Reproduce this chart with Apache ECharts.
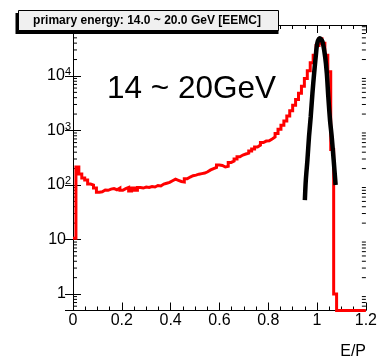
<!DOCTYPE html>
<html>
<head>
<meta charset="utf-8">
<script src="https://cdn.jsdelivr.net/npm/echarts@6/dist/echarts.min.js"></script>
<style>
html,body{margin:0;padding:0;background:#fff;}
#chart{width:380px;height:359px;}
</style>
</head>
<body>
<div id="chart"></div>
<script>
// ---- data ----
const binWidth = 0.012;
const xMin = 0, xMax = 1.2;
const yMin = 0.5, yMax = 86000;
const counts = [
  10.6, 214, 160, 134, 123, 104, 100, 88, 74, 75,
  81, 80, 84, 86, 82, 88, 80, 86, 90, 78,
  88, 80, 90, 88, 92, 90, 94, 92, 98, 96,
  104, 108, 112, 120, 128, 122, 116, 114, 130, 140,
  148, 152, 158, 162, 166, 175, 189, 200, 210, 233,
  228, 214, 220, 260, 275, 300, 330, 355, 370, 385,
  420, 458, 500, 540, 600, 640, 650, 700, 760, 880,
  1050, 1250, 1500, 1850, 2300, 2900, 3700, 4800, 6500, 9000,
  12500, 17500, 24000, 36000, 48000, 40000, 24000, 12000, 450, 1,
  0, 0, 0, 0, 0, 0, 0, 0, 0, 0
];
const fitX = [0.950, 0.954, 0.9605, 0.967, 0.974, 0.981, 0.988, 0.9945, 1.001, 1.011,
              1.022, 1.033, 1.040, 1.046, 1.053, 1.060, 1.068, 1.076];
const fitY = [53, 124, 288, 770, 1790, 4810, 11200, 22600, 39800, 49000,
              42600, 22600, 11200, 4170, 1560, 770, 288, 100];
const xTickStep = 0.2;
const titleText = 'primary energy: 14.0 ~ 20.0 GeV [EEMC]';
const bigText = '14 ~ 20GeV';
const xName = 'E/P';

// ---- build series data ----
const histData = [];
counts.forEach((c, i) => {
  const v = Math.max(c, yMin);
  histData.push([+(i * binWidth).toFixed(4), v]);
  histData.push([+((i + 1) * binWidth).toFixed(4), v]);
});
const fitData = fitX.map((x, i) => [x, fitY[i]]);

const minorVals = [];
for (let e = -1; e <= 4; e++) {
  for (let k = 2; k <= 9; k++) {
    const v = k * Math.pow(10, e);
    if (v > yMin && v < yMax) minorVals.push([0, v]);
  }
}

const FONT = "'Liberation Sans', Arial, Helvetica, sans-serif";

function yLabel(v) {
  const l = Math.log10(v);
  const r = Math.round(l);
  if (Math.abs(l - r) > 1e-6) return '';
  if (r === 0) return '{p|1}';
  if (r === 1) return '{p|10}';
  return '10{s|' + r + '}';
}

const chart = echarts.init(document.getElementById('chart'), null, {renderer: 'canvas'});
const axisCommon = {
  axisLine: {show: true, lineStyle: {color: '#000', width: 1}},
  splitLine: {show: false}
};
chart.setOption({
  animation: false,
  backgroundColor: '#fff',
  grid: {left: 73, right: 13, top: 25, bottom: 48.5, show: false},
  xAxis: [
    Object.assign({
      type: 'value', min: xMin, max: xMax, interval: xTickStep, position: 'bottom',
      axisTick: {show: true, inside: true, length: 8, lineStyle: {color: '#000'}},
      minorTick: {show: true, splitNumber: 4, length: 4, lineStyle: {color: '#000'}},
      axisLabel: {show: true, margin: 2, color: '#000', fontSize: 16, fontFamily: FONT,
        formatter: v => String(+v.toFixed(2))}
    }, axisCommon),
    Object.assign({
      type: 'value', min: xMin, max: xMax, interval: xTickStep, position: 'top',
      axisTick: {show: true, inside: true, length: 8, lineStyle: {color: '#000'}},
      minorTick: {show: true, splitNumber: 4, length: 4, lineStyle: {color: '#000'}},
      axisLabel: {show: false}
    }, axisCommon)
  ],
  yAxis: [
    Object.assign({
      type: 'log', min: yMin, max: yMax, position: 'left',
      axisTick: {show: true, inside: true, length: 8, lineStyle: {color: '#000'}},
      axisLabel: {show: true, margin: 2, color: '#000', fontSize: 16, fontFamily: FONT,
        formatter: yLabel,
        rich: {
          s: {fontSize: 11, fontFamily: FONT, color: '#000', verticalAlign: 'top', padding: [0, 0, 8, 0]},
          p: {fontSize: 16, fontFamily: FONT, color: '#000', padding: [0, 5, 0, 0]}
        }}
    }, axisCommon),
    Object.assign({
      type: 'log', min: yMin, max: yMax, position: 'right',
      axisTick: {show: true, inside: true, length: 8, lineStyle: {color: '#000'}},
      axisLabel: {show: false}
    }, axisCommon)
  ],
  series: [
    {
      type: 'custom', xAxisIndex: 0, yAxisIndex: 0, silent: true, clip: false,
      encode: {x: 0, y: 1},
      data: minorVals,
      renderItem: function (params, api) {
        const v = api.value(1);
        const a = api.coord([xMin, v]);
        const b = api.coord([xMax, v]);
        return {type: 'group', children: [
          {type: 'line', shape: {x1: a[0], y1: a[1], x2: a[0] + 4, y2: a[1]}, style: {stroke: '#000', lineWidth: 1}},
          {type: 'line', shape: {x1: b[0], y1: b[1], x2: b[0] - 4, y2: b[1]}, style: {stroke: '#000', lineWidth: 1}}
        ]};
      }
    },
    {
      type: 'line', xAxisIndex: 0, yAxisIndex: 0, data: histData,
      showSymbol: false, symbol: 'none',
      lineStyle: {color: '#ff0000', width: 3, join: 'miter'},
      z: 3
    },
    {
      type: 'line', xAxisIndex: 0, yAxisIndex: 0, data: fitData,
      showSymbol: false, symbol: 'none', smooth: 0.3,
      lineStyle: {color: '#000', width: 4.5},
      z: 4
    }
  ],
  graphic: [
    {type: 'rect', shape: {x: 15.5, y: 13, width: 263, height: 21}, style: {fill: '#000'}, z: 10},
    {type: 'rect', shape: {x: 18.5, y: 10.5, width: 260, height: 20}, style: {fill: '#f0f0f0', stroke: '#000', lineWidth: 1}, z: 11},
    {type: 'text', x: 147, y: 20.5, z: 12, style: {text: titleText, font: 'bold 12px ' + FONT, fill: '#000', align: 'center', verticalAlign: 'middle'}},
    {type: 'text', x: 107, y: 89, z: 12, style: {text: bigText, font: '31.5px ' + FONT, fill: '#000', align: 'left', verticalAlign: 'middle'}},
    {type: 'text', x: 366, y: 352, z: 12, style: {text: xName, font: '16px ' + FONT, fill: '#000', align: 'right', verticalAlign: 'middle'}}
  ]
});
</script>
</body>
</html>
